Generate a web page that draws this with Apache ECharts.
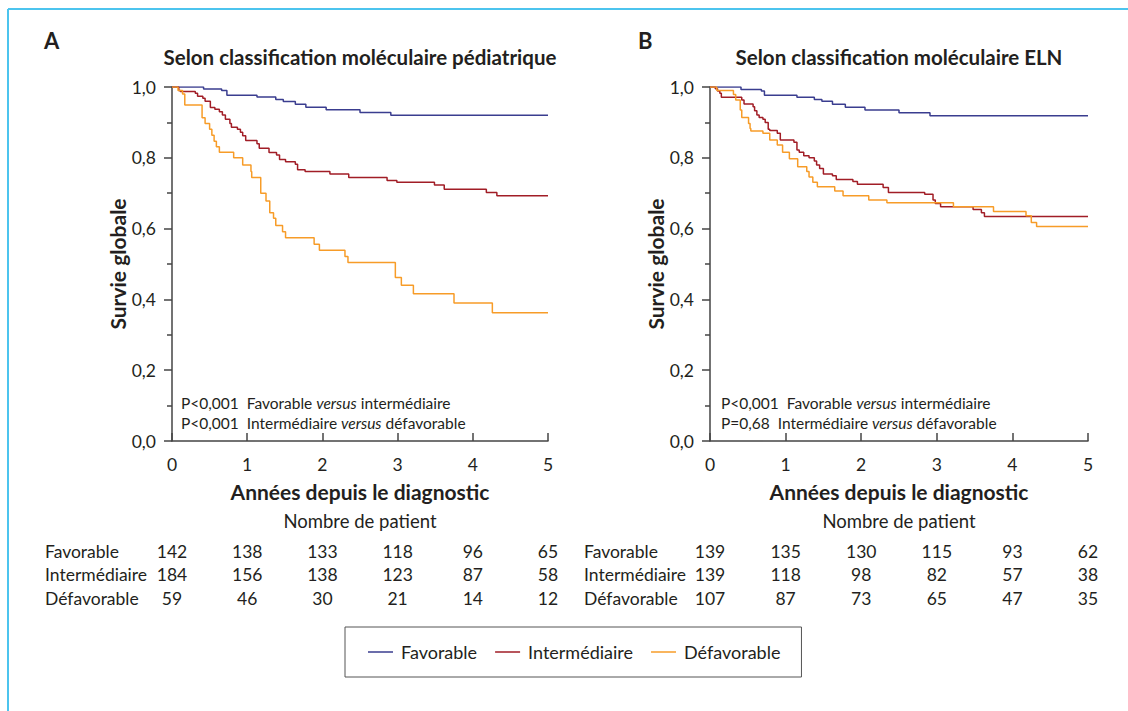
<!DOCTYPE html>
<html>
<head>
<meta charset="utf-8">
<script src="https://cdn.jsdelivr.net/npm/echarts@6/dist/echarts.min.js"></script>
<style>
  html, body { margin: 0; padding: 0; background: #fff; }
  #chart { width: 1128px; height: 711px; }
</style>
</head>
<body>
<div id="chart"></div>
<script>
// Kaplan-Meier curves, [years, survival] at each step
const pedFavorable = [[0,1],[0.42,0.994],[0.66,0.99],[0.73,0.977],[1.13,0.972],[1.38,0.965],[1.48,0.959],[1.64,0.951],[1.78,0.943],[2.05,0.936],[2.50,0.928],[2.91,0.920],[5,0.920]]
const pedIntermediaire = [[0,1],[0.09,0.99],[0.11,0.987],[0.31,0.982],[0.34,0.974],[0.41,0.968],[0.44,0.96],[0.51,0.942],[0.57,0.937],[0.63,0.93],[0.67,0.921],[0.71,0.909],[0.77,0.897],[0.79,0.886],[0.87,0.881],[0.91,0.872],[0.94,0.862],[0.98,0.849],[1.13,0.84],[1.16,0.827],[1.29,0.815],[1.39,0.808],[1.43,0.795],[1.51,0.789],[1.64,0.782],[1.67,0.766],[1.77,0.761],[2.10,0.754],[2.35,0.744],[2.86,0.736],[2.99,0.731],[3.49,0.723],[3.62,0.711],[4.18,0.702],[4.32,0.693],[5,0.693]]
const pedDefavorable = [[0,1],[0.08,0.99],[0.14,0.98],[0.17,0.949],[0.40,0.913],[0.44,0.897],[0.50,0.881],[0.53,0.864],[0.56,0.847],[0.59,0.831],[0.63,0.816],[0.82,0.80],[0.94,0.78],[1.05,0.761],[1.06,0.744],[1.18,0.70],[1.25,0.678],[1.30,0.645],[1.35,0.629],[1.38,0.609],[1.47,0.591],[1.51,0.574],[1.89,0.556],[1.96,0.539],[2.30,0.521],[2.34,0.504],[2.97,0.462],[3.05,0.44],[3.21,0.416],[3.75,0.39],[4.26,0.362],[5,0.362]]

const elnFavorable = [[0,1],[0.41,0.993],[0.68,0.989],[0.72,0.977],[1.15,0.971],[1.38,0.965],[1.48,0.96],[1.62,0.951],[1.79,0.943],[2.05,0.935],[2.50,0.927],[2.91,0.919],[5,0.919]]
const elnIntermediaire = [[0,1],[0.07,0.995],[0.10,0.989],[0.13,0.982],[0.15,0.971],[0.42,0.963],[0.45,0.952],[0.57,0.944],[0.59,0.933],[0.62,0.921],[0.65,0.914],[0.70,0.909],[0.73,0.90],[0.77,0.881],[0.79,0.877],[0.89,0.869],[0.93,0.85],[1.11,0.844],[1.15,0.822],[1.18,0.816],[1.24,0.806],[1.31,0.80],[1.38,0.791],[1.41,0.78],[1.45,0.77],[1.50,0.754],[1.62,0.749],[1.67,0.739],[1.89,0.733],[1.95,0.725],[2.29,0.716],[2.36,0.702],[2.84,0.697],[2.95,0.681],[2.98,0.671],[3.05,0.662],[3.48,0.654],[3.59,0.645],[3.63,0.634],[5,0.634]]
const elnDefavorable = [[0,1],[0.09,0.99],[0.31,0.979],[0.34,0.963],[0.40,0.935],[0.42,0.914],[0.51,0.897],[0.53,0.883],[0.54,0.876],[0.70,0.869],[0.79,0.85],[0.89,0.836],[0.96,0.816],[1.05,0.797],[1.16,0.775],[1.28,0.761],[1.31,0.746],[1.36,0.731],[1.42,0.718],[1.65,0.706],[1.76,0.693],[2.10,0.681],[2.34,0.673],[3.22,0.662],[3.75,0.648],[4.18,0.636],[4.25,0.617],[4.32,0.606],[5,0.606]]

// numbers at risk at years 0..5
const riskYears = [0, 1, 2, 3, 4, 5]
const groupNames = ['Favorable', 'Intermédiaire', 'Défavorable']
const pedRisk = [[142,138,133,118,96,65],[184,156,138,123,87,58],[59,46,30,21,14,12]]
const elnRisk = [[139,135,130,115,93,62],[139,118,98,82,57,38],[107,87,73,65,47,35]]

const pedPValues = [['P<0,001', 'Favorable', 'intermédiaire'], ['P<0,001', 'Intermédiaire', 'défavorable']]
const elnPValues = [['P<0,001', 'Favorable', 'intermédiaire'], ['P=0,68', 'Intermédiaire', 'défavorable']]

const colors = ['#3a3d8f', '#a11d26', '#f79c28']
const font = 'Lato, "Open Sans", sans-serif'
const ink = '#231f20'

const chart = echarts.init(document.getElementById('chart'), null, {renderer: 'svg'})

function xAxis(i) {
  return {
    type: 'value', gridIndex: i, min: 0, max: 5, interval: 1,
    axisLine: {lineStyle: {color: '#444', width: 1.5}},
    axisTick: {inside: true, length: 8, lineStyle: {color: '#444', width: 1.5}},
    axisLabel: {fontSize: 17.5, color: ink, fontFamily: font, margin: 14},
    splitLine: {show: false},
    name: 'Années depuis le diagnostic',
    nameLocation: 'middle', nameGap: 40,
    nameTextStyle: {fontSize: 21, fontWeight: 'bold', color: ink, fontFamily: font}
  }
}

function yAxis(i) {
  return {
    type: 'value', gridIndex: i, min: 0, max: 1, interval: 0.2,
    axisLine: {show: true, lineStyle: {color: '#444', width: 1.5}},
    axisTick: {show: true, length: 8, lineStyle: {color: '#444', width: 1.5}},
    minorTick: {show: true, splitNumber: 2, length: 5, lineStyle: {color: '#444', width: 1.5}},
    axisLabel: {fontSize: 17.5, color: ink, fontFamily: font, margin: 16,
      formatter: v => v.toFixed(1).replace('.', ',')},
    splitLine: {show: false},
    name: 'Survie globale',
    nameLocation: 'middle', nameGap: 43,
    nameTextStyle: {fontSize: 21, fontWeight: 'bold', color: ink, fontFamily: font}
  }
}

function curve(name, data, idx, color) {
  return {
    name: name, type: 'line', step: 'end', symbol: 'none',
    xAxisIndex: idx, yAxisIndex: idx, data: data,
    lineStyle: {color: color, width: 1.5}, itemStyle: {color: color},
    animation: false
  }
}

chart.setOption({
  backgroundColor: '#fff',
  animation: false,
  grid: [
    {left: 172, top: 87, width: 376, height: 354},
    {left: 710, top: 87, width: 378, height: 354}
  ],
  xAxis: [xAxis(0), xAxis(1)],
  yAxis: [yAxis(0), yAxis(1)],
  legend: {
    data: groupNames, left: 345, top: 627,
    padding: [16, 21, 16, 23], borderColor: '#555', borderWidth: 1,
    icon: 'rect', itemWidth: 25, itemHeight: 1.5, itemGap: 18,
    textStyle: {fontSize: 18, color: ink, fontFamily: font, padding: [0, 0, 0, 3]}
  },
  series: [
    curve('Favorable', pedFavorable, 0, colors[0]),
    curve('Intermédiaire', pedIntermediaire, 0, colors[1]),
    curve('Défavorable', pedDefavorable, 0, colors[2]),
    curve('Favorable', elnFavorable, 1, colors[0]),
    curve('Intermédiaire', elnIntermediaire, 1, colors[1]),
    curve('Défavorable', elnDefavorable, 1, colors[2])
  ]
})

// texts around the plots: titles, p-values, number-at-risk table
const panels = [
  {idx: 0, letter: 'A', letterX: 44, title: 'Selon classification moléculaire pédiatrique', pv: pedPValues, pvX: 181, risk: pedRisk, labelX: 45},
  {idx: 1, letter: 'B', letterX: 638, title: 'Selon classification moléculaire ELN', pv: elnPValues, pvX: 721, risk: elnRisk, labelX: 584}
]

const graphic = [
  {type: 'line', shape: {x1: 8, y1: 9, x2: 1128, y2: 9}, style: {stroke: '#4cc4ee', lineWidth: 2}},
  {type: 'line', shape: {x1: 8, y1: 9, x2: 8, y2: 711}, style: {stroke: '#4cc4ee', lineWidth: 2}}
]

const textStyle = (extra) => Object.assign({fill: ink, fontFamily: font, fontSize: 17.5}, extra)

panels.forEach(p => {
  const x0 = chart.convertToPixel({xAxisIndex: p.idx}, 0)
  const x5 = chart.convertToPixel({xAxisIndex: p.idx}, 5)
  const mid = (x0 + x5) / 2
  graphic.push({type: 'text', x: p.letterX, y: 40, style: textStyle({text: p.letter, fontSize: 22, fontWeight: 'bold', verticalAlign: 'middle'})})
  graphic.push({type: 'text', x: mid, y: 57, style: textStyle({text: p.title, fontSize: 20.5, fontWeight: 'bold', align: 'center', verticalAlign: 'middle'})})
  p.pv.forEach((row, r) => {
    graphic.push({type: 'text', x: p.pvX, y: 403 + r * 20, style: {
      text: row[0] + '  ' + row[1] + ' {i|versus} ' + row[2],
      fill: ink, fontFamily: font, fontSize: 15.5, verticalAlign: 'middle',
      rich: {i: {fontStyle: 'italic', fontFamily: font, fontSize: 15.5, fill: ink}}
    }})
  })
  graphic.push({type: 'text', x: mid, y: 521, style: textStyle({text: 'Nombre de patient', fontSize: 18.5, align: 'center', verticalAlign: 'middle'})})
  p.risk.forEach((row, r) => {
    const y = 551 + r * 23.5
    graphic.push({type: 'text', x: p.labelX, y: y, style: textStyle({text: groupNames[r], verticalAlign: 'middle'})})
    row.forEach((n, k) => {
      const x = chart.convertToPixel({xAxisIndex: p.idx}, riskYears[k])
      graphic.push({type: 'text', x: x, y: y, style: textStyle({text: String(n), align: 'center', verticalAlign: 'middle'})})
    })
  })
})

chart.setOption({graphic: graphic})
</script>
</body>
</html>
